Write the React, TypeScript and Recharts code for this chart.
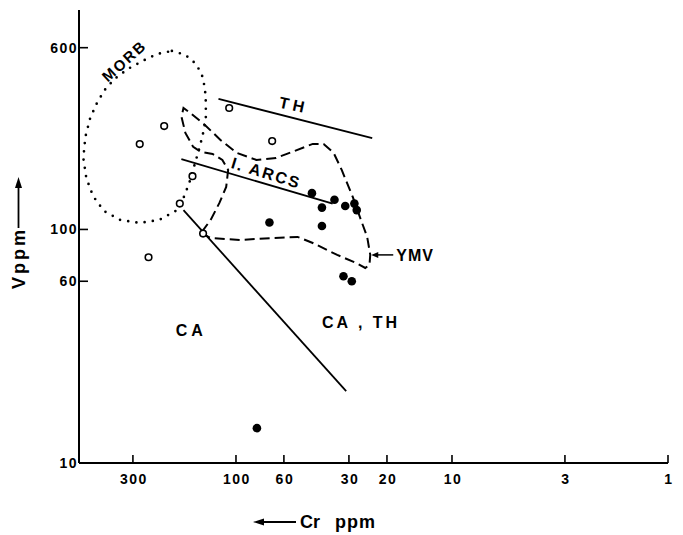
import React from 'react';
import { ScatterChart, Scatter, XAxis, YAxis, ReferenceDot, Label } from 'recharts';

// ---- tick labels ----
const crTicks = [300, 100, 60, 30, 20, 10, 3, 1];
const vTicks = [600, 100, 60, 10];

// ---- open circles (Cr ppm, V ppm) ----
const openCr = [215, 279, 68, 107.5, 159, 182, 254, 142];
const openV = [277, 232, 239, 331, 169, 129, 76, 96];

// ---- filled circles (Cr ppm, V ppm) ----
const filledCr = [44.5, 35, 40, 31.2, 28.3, 27.6, 40, 70, 31.8, 29.1, 80];
const filledV = [143, 134, 124, 126, 129, 121, 103.5, 107, 63, 60, 14.1];

// ---- discriminant lines ----
const thLineCr = [120.5, 23.4];
const thLineV = [362, 246];
const arcLineCr = [179, 35.7];
const arcLineV = [200, 129];
const caLineCr = [175, 30.9];
const caLineV = [121, 20.3];

// ---- MORB field (dotted outline) ----
const morbCr = [198, 171.5, 153, 143.8, 139.3, 137.9, 137.9, 140.8, 146.7, 154.6, 162.8, 173.3, 190.2, 226.8, 279, 343, 409, 459, 493, 509, 498, 473, 440, 405, 365, 316, 270, 231.5];
const morbV = [581, 559, 511, 459, 404, 352, 303, 267, 228, 192.7, 163, 139, 120, 109.8, 106.6, 109.8, 120, 139, 166, 202, 249, 300, 348, 396, 441, 487, 527, 564];

// ---- YMV field (dashed outline) ----
const ymvCr = [145.2, 131, 95.9, 67.3, 51.9, 44.1, 34, 27.8, 25.2, 24.1, 23.9, 24.7, 26.7, 28.8, 32.4, 35.3, 39.3, 44.1, 53.5, 65.2, 80.4, 99, 118, 139.3, 162.8, 175, 178.7, 171.5, 157.8, 145.2, 128.3, 115.6, 108.7, 111, 119.3, 131];
const ymvV = [96.6, 91.9, 90.2, 91.9, 92.9, 87.5, 77.8, 71.9, 68.4, 70.5, 77.8, 92.9, 113.1, 137.8, 179.8, 212.6, 232.4, 232.4, 216.9, 202.4, 198.4, 212.6, 241.7, 280.2, 315.4, 331.4, 303.3, 259, 225.6, 214.7, 210.5, 198.4, 179.8, 152, 129.9, 109.8];

const zip = (xs: number[], ys: number[]) => xs.map((x, i) => ({ cr: x, v: ys[i] }));

const FONT = '"Liberation Sans", Arial, Helvetica, sans-serif';

const YTick = (props: any) => {
  const { x, y, payload } = props;
  return (
    <g>
      <line x1={x} x2={x + 9} y1={y} y2={y} stroke="#000" strokeWidth={1.6} />
      <text x={x - 1} y={y} dy="0.36em" textAnchor="end" fontFamily={FONT} fontWeight="bold" fontSize={14} letterSpacing={1.5} fill="#000">
        {payload.value}
      </text>
    </g>
  );
};

const XTick = (props: any) => {
  const { x, y, payload } = props;
  return (
    <g>
      <line x1={x} x2={x} y1={y} y2={y - 8} stroke="#000" strokeWidth={1.6} />
      <text x={x + 1} y={y + 21} textAnchor="middle" fontFamily={FONT} fontWeight="bold" fontSize={14} letterSpacing={1.5} fill="#000">
        {payload.value}
      </text>
    </g>
  );
};

const NoShape = () => <g />;
const OpenDot = (p: any) => <circle cx={p.cx} cy={p.cy} r={3.3} fill="#fff" stroke="#000" strokeWidth={1.6} />;
const FilledDot = (p: any) => <circle cx={p.cx} cy={p.cy} r={4.3} fill="#000" />;

const txt = (s: string, rot: number, size = 16, spacing = 3) => (p: any) => (
  <text
    x={p.cx}
    y={p.cy}
    dy="0.36em"
    textAnchor="middle"
    transform={`rotate(${rot}, ${p.cx}, ${p.cy})`}
    fontFamily={FONT}
    fontWeight="bold"
    fontSize={size}
    letterSpacing={spacing}
    fill="#000"
  >
    {s}
  </text>
);

const YmvLabel = (p: any) => (
  <g>
    <line x1={p.cx + 6} x2={p.cx + 23} y1={p.cy} y2={p.cy} stroke="#000" strokeWidth={1.5} />
    <polygon points={`${p.cx + 1},${p.cy} ${p.cx + 8},${p.cy - 3} ${p.cx + 8},${p.cy + 3}`} fill="#000" />
    <text x={p.cx + 26} y={p.cy} dy="0.36em" textAnchor="start" fontFamily={FONT} fontWeight="bold" fontSize={16} letterSpacing={1} fill="#000">
      YMV
    </text>
  </g>
);

const CaThLabel = (p: any) => (
  <text x={p.cx} y={p.cy} dy="0.36em" textAnchor="start" fontFamily={FONT} fontWeight="bold" fontSize={16} letterSpacing={3} fill="#000">
    CA , TH
  </text>
);

const CrTitle = () => (
  <g>
    <line x1={259} x2={296} y1={522} y2={522} stroke="#000" strokeWidth={1.8} />
    <polygon points="253,522 264,518.5 264,525.5" fill="#000" />
    <text y={528} fontFamily={FONT} fontWeight="bold" fontSize={18} fill="#000">
      <tspan x={300}>Cr</tspan>
      <tspan x={335} letterSpacing={1}>ppm</tspan>
    </text>
  </g>
);

const VTitle = () => (
  <g>
    <line x1={18.5} x2={18.5} y1={228} y2={184} stroke="#000" strokeWidth={1.8} />
    <polygon points="18.5,177 15,188 22,188" fill="#000" />
    <text
      x={19}
      y={258}
      dy="0.36em"
      textAnchor="middle"
      transform="rotate(-90, 19, 258)"
      fontFamily={FONT}
      fontWeight="bold"
      fontSize={18}
      letterSpacing={3}
      fill="#000"
    >
      Vppm
    </text>
  </g>
);

export default function App() {
  return (
    <div style={{ position: 'absolute', left: 0, top: 0, width: 683, height: 535, background: '#fff' }}>
      <ScatterChart width={683} height={535} margin={{ top: 10, right: 15, bottom: 0, left: 0 }}>
        <XAxis
          dataKey="cr"
          type="number"
          scale="log"
          domain={[1, 533]}
          reversed
          allowDataOverflow
          ticks={crTicks}
          interval={0}
          height={72}
          tickSize={0}
          tickMargin={0}
          tickLine={false}
          tick={<XTick />}
          axisLine={{ stroke: '#000', strokeWidth: 2 }}
        >
          <Label content={CrTitle} />
        </XAxis>
        <YAxis
          dataKey="v"
          type="number"
          scale="log"
          domain={[10, 870]}
          allowDataOverflow
          ticks={vTicks}
          interval={0}
          width={79}
          tickSize={0}
          tickMargin={0}
          tickLine={false}
          tick={<YTick />}
          axisLine={{ stroke: '#000', strokeWidth: 2 }}
        >
          <Label content={VTitle} />
        </YAxis>

        <Scatter
          data={zip(morbCr, morbV)}
          line={{ stroke: '#000', strokeWidth: 2.7, strokeDasharray: '0 8.3', strokeLinecap: 'round' }}
          lineType="joint"
          lineJointType="linearClosed"
          shape={NoShape}
          isAnimationActive={false}
          legendType="none"
        />
        <Scatter
          data={zip(ymvCr, ymvV)}
          line={{ stroke: '#000', strokeWidth: 2, strokeDasharray: '10 5' }}
          lineType="joint"
          lineJointType="linearClosed"
          shape={NoShape}
          isAnimationActive={false}
          legendType="none"
        />
        <Scatter
          data={zip(thLineCr, thLineV)}
          line={{ stroke: '#000', strokeWidth: 1.8 }}
          lineType="joint"
          shape={NoShape}
          isAnimationActive={false}
          legendType="none"
        />
        <Scatter
          data={zip(arcLineCr, arcLineV)}
          line={{ stroke: '#000', strokeWidth: 1.8 }}
          lineType="joint"
          shape={NoShape}
          isAnimationActive={false}
          legendType="none"
        />
        <Scatter
          data={zip(caLineCr, caLineV)}
          line={{ stroke: '#000', strokeWidth: 1.8 }}
          lineType="joint"
          shape={NoShape}
          isAnimationActive={false}
          legendType="none"
        />
        <Scatter data={zip(openCr, openV)} shape={OpenDot} isAnimationActive={false} legendType="none" />
        <Scatter data={zip(filledCr, filledV)} shape={FilledDot} isAnimationActive={false} legendType="none" />

        <ReferenceDot x={329} y={527} r={0} shape={txt('MORB', -42, 15, 2)} ifOverflow="visible" />
        <ReferenceDot x={54} y={341.5} r={0} shape={txt('TH', 12, 16, 4)} ifOverflow="visible" />
        <ReferenceDot x={72.4} y={174.6} r={0} shape={txt('I. ARCS', 17, 16, 2)} ifOverflow="visible" />
        <ReferenceDot x={23.9} y={77.8} r={0} shape={YmvLabel} ifOverflow="visible" />
        <ReferenceDot x={161} y={37.1} r={0} shape={txt('CA', 0, 16, 4)} ifOverflow="visible" />
        <ReferenceDot x={40} y={40.2} r={0} shape={CaThLabel} ifOverflow="visible" />
      </ScatterChart>
    </div>
  );
}
